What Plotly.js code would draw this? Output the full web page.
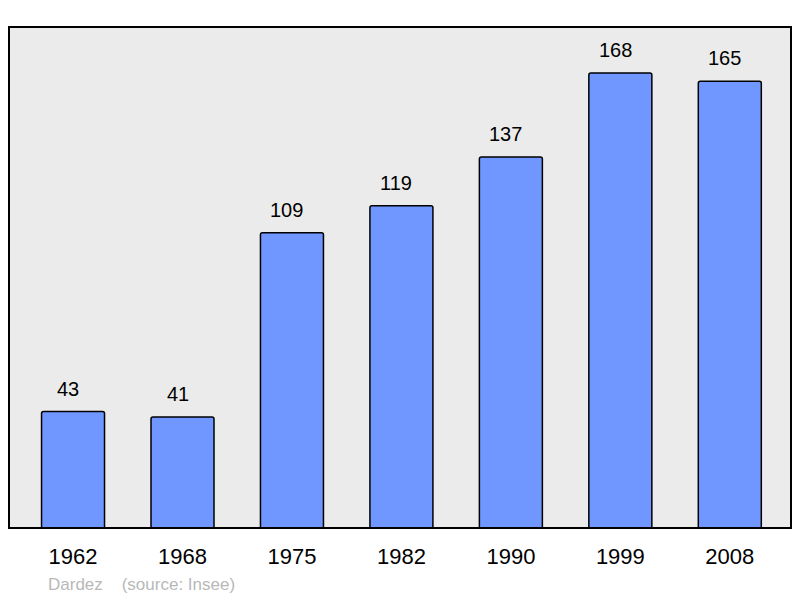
<!DOCTYPE html>
<html>
<head>
<meta charset="utf-8">
<script src="https://cdn.plot.ly/plotly-3.0.1.min.js"></script>
<style>html,body{margin:0;padding:0;background:#fff;}#chart{width:800px;height:598px;}</style>
</head>
<body>
<div id="chart"></div>
<script>
const years = ["1962", "1968", "1975", "1982", "1990", "1999", "2008"];
const population = [43, 41, 109, 119, 137, 168, 165];
const footnote = "Dardez\u00a0\u00a0\u00a0\u00a0(source: Insee)";

const trace = {
  type: "bar",
  x: years,
  y: population,
  marker: {color: "#7097ff", line: {color: "#000000", width: 1.5}},
  hoverinfo: "none"
};

const annotations = years.map((yr, i) => ({
  x: i, y: population[i], xref: "x", yref: "y",
  text: String(population[i]), showarrow: false,
  yanchor: "bottom", yshift: 10, xshift: -5,
  font: {family: "Liberation Sans, Arial, sans-serif", size: 20, color: "#000"}
}));
annotations.push({
  xref: "paper", yref: "paper", x: 0.0473, y: -0.1118,
  xanchor: "left", yanchor: "middle", showarrow: false,
  text: footnote,
  font: {family: "Liberation Sans, Arial, sans-serif", size: 17, color: "#b8b8b8"}
});

const layout = {
  width: 800, height: 598,
  margin: {l: 9, r: 9, t: 27, b: 70, pad: 0},
  paper_bgcolor: "#ffffff",
  plot_bgcolor: "#ebebeb",
  bargap: 0.4245,
  barcornerradius: 2,
  showlegend: false,
  xaxis: {
    type: "category", range: [-0.585, 6.559],
    showgrid: false, zeroline: false, showline: false,
    ticks: "", ticklabelstandoff: 13,
    tickfont: {family: "Liberation Sans, Arial, sans-serif", size: 22, color: "#000"},
    fixedrange: true
  },
  yaxis: {
    range: [0, 185], showgrid: false, zeroline: false, showline: false,
    showticklabels: false, ticks: "", fixedrange: true
  },
  shapes: [{
    type: "rect", xref: "paper", yref: "paper", x0: 0, x1: 1, y0: 0, y1: 1,
    line: {color: "#000", width: 2}, fillcolor: "rgba(0,0,0,0)", layer: "above"
  }],
  annotations: annotations
};

Plotly.newPlot("chart", [trace], layout, {displayModeBar: false, staticPlot: true});
</script>
</body>
</html>
